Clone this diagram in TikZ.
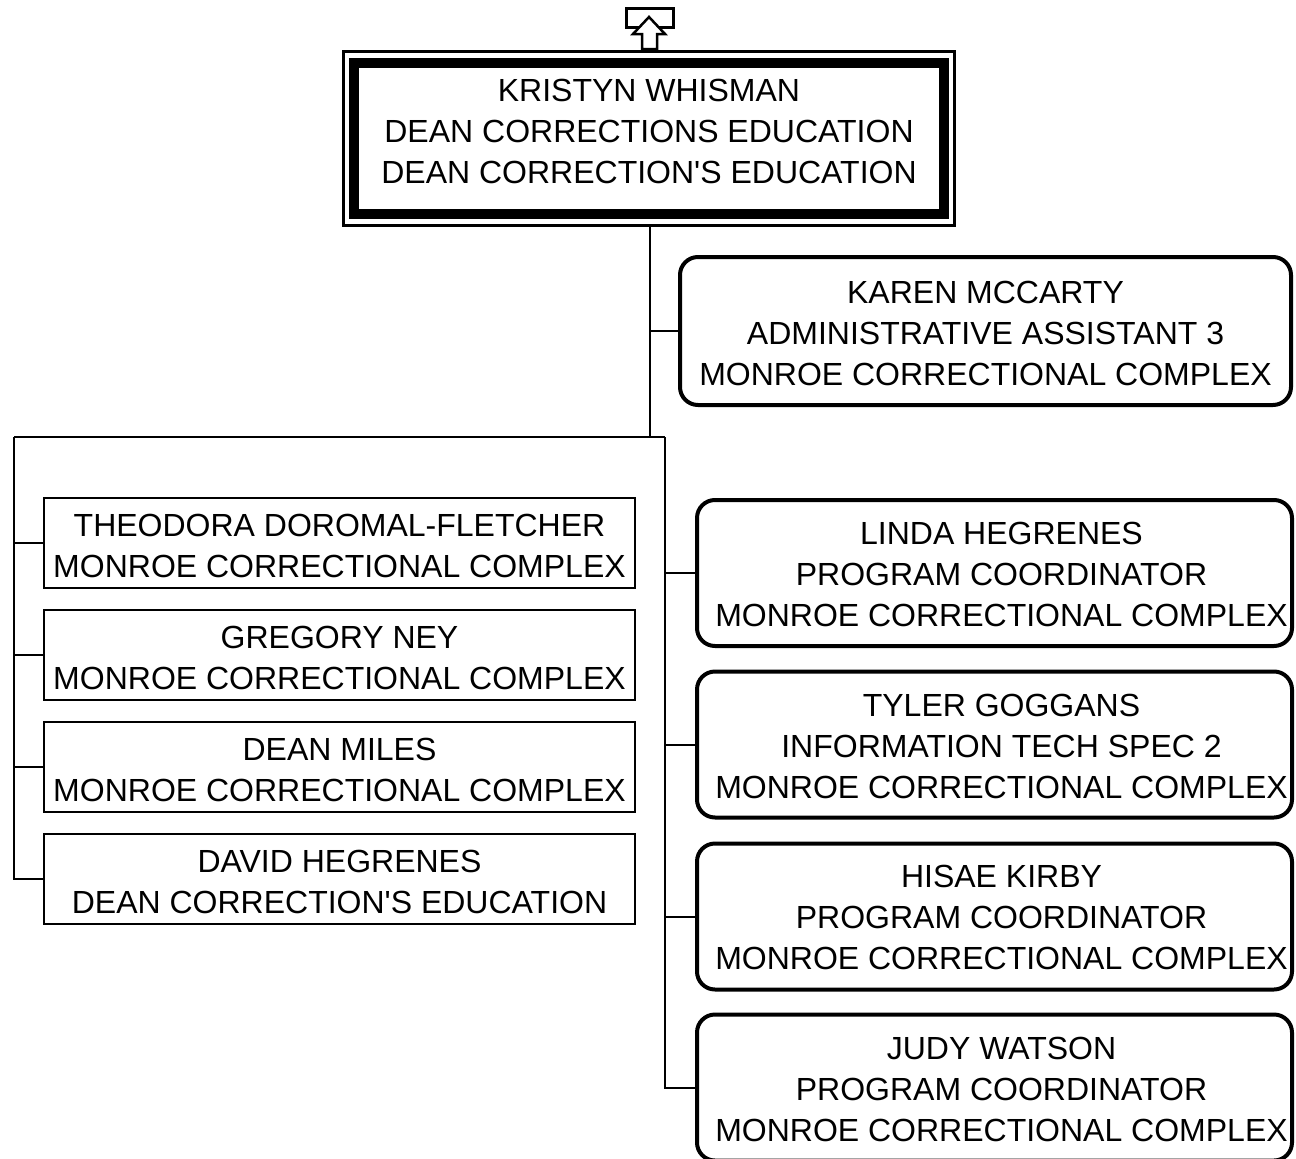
\documentclass[tikz,border=0pt]{standalone}
\usepackage{fontspec}
\setmainfont{Liberation Sans}[Ligatures=TeXOff]
\begin{document}
\begin{tikzpicture}[x=1pt,y=-1pt,
  txt/.style={font=\fontsize{32}{41}\selectfont, align=center, inner sep=0pt},
  leftbox/.style={draw, line width=2pt, minimum width=591pt, minimum height=90pt, inner sep=0pt},
  rightbox/.style={draw, line width=4pt, rounded corners=18pt, minimum width=595pt, minimum height=146pt, inner sep=0pt},
  conn/.style={line width=2pt}]
\useasboundingbox (0,0) rectangle (1296,1159);
% top box
\node[draw, line width=10pt, minimum width=590pt, minimum height=151pt, inner sep=0pt] (kw) at (649,138.5) {};
\node[txt] (kwt) at (649,131.5) {KRISTYN WHISMAN\\DEAN CORRECTIONS EDUCATION\\DEAN CORRECTION'S EDUCATION};
\draw[line width=3pt] ([shift={(-5.5,-6.5)}]kw.north west) rectangle ([shift={(5.5,6.5)}]kw.south east);
% top marker
\draw[line width=3pt] (626,8) rectangle (673,27);
\draw[line width=2.5pt, fill=white, line join=miter] (649,17) -- (665,34) -- (657,34) -- (657,49) -- (642,49) -- (642,34) -- (633,34) -- cycle;
% Karen
\node[draw, line width=4pt, rounded corners=18pt, minimum width=611pt, minimum height=148pt, inner sep=0pt] (km) at (985.5,331) {};
\node[txt] (kmt) at (985.5,333) {KAREN MCCARTY\\ADMINISTRATIVE ASSISTANT 3\\MONROE CORRECTIONAL COMPLEX};
% left boxes
\node[leftbox] (td) at (339.5,543) {};
\node[txt] (tdt) at (339.5,545.5) {THEODORA DOROMAL-FLETCHER\\MONROE CORRECTIONAL COMPLEX};
\node[leftbox] (gn) at (339.5,655) {};
\node[txt] (gnt) at (339.5,657.5) {GREGORY NEY\\MONROE CORRECTIONAL COMPLEX};
\node[leftbox] (dm) at (339.5,767) {};
\node[txt] (dmt) at (339.5,769.5) {DEAN MILES\\MONROE CORRECTIONAL COMPLEX};
\node[leftbox] (dh) at (339.5,879) {};
\node[txt] (dht) at (339.5,881.5) {DAVID HEGRENES\\DEAN CORRECTION'S EDUCATION};
% right boxes
\node[rightbox] (lh) at (994.5,573) {};
\node[txt] (lht) at (1001.5,574.5) {LINDA HEGRENES\\PROGRAM COORDINATOR\\MONROE CORRECTIONAL COMPLEX};
\node[rightbox] (tg) at (994.5,744.5) {};
\node[txt] (tgt) at (1001.5,746.5) {TYLER GOGGANS\\INFORMATION TECH SPEC 2\\MONROE CORRECTIONAL COMPLEX};
\node[rightbox] (hk) at (994.5,916.5) {};
\node[txt] (hkt) at (1001.5,917.5) {HISAE KIRBY\\PROGRAM COORDINATOR\\MONROE CORRECTIONAL COMPLEX};
\node[rightbox] (jw) at (994.5,1087.5) {};
\node[txt] (jwt) at (1001.5,1089) {JUDY WATSON\\PROGRAM COORDINATOR\\MONROE CORRECTIONAL COMPLEX};
% connectors
\coordinate (bus) at (650,437);
\coordinate (busl) at (14,437);
\coordinate (busr) at (665,437);
\draw[conn] (650,226) -- (bus);
\draw[conn] (650,331) -- (km.west);
\draw[conn] (busl) -- (busr);
\draw[conn] (busl) |- (td.west);
\draw[conn] (busl) |- (gn.west);
\draw[conn] (busl) |- (dm.west);
\draw[conn] (busl) |- (dh.west);
\draw[conn] (busr) |- (lh.west);
\draw[conn] (busr) |- (tg.west);
\draw[conn] (busr) |- (hk.west);
\draw[conn] (busr) |- (jw.west);
\end{tikzpicture}
\end{document}
